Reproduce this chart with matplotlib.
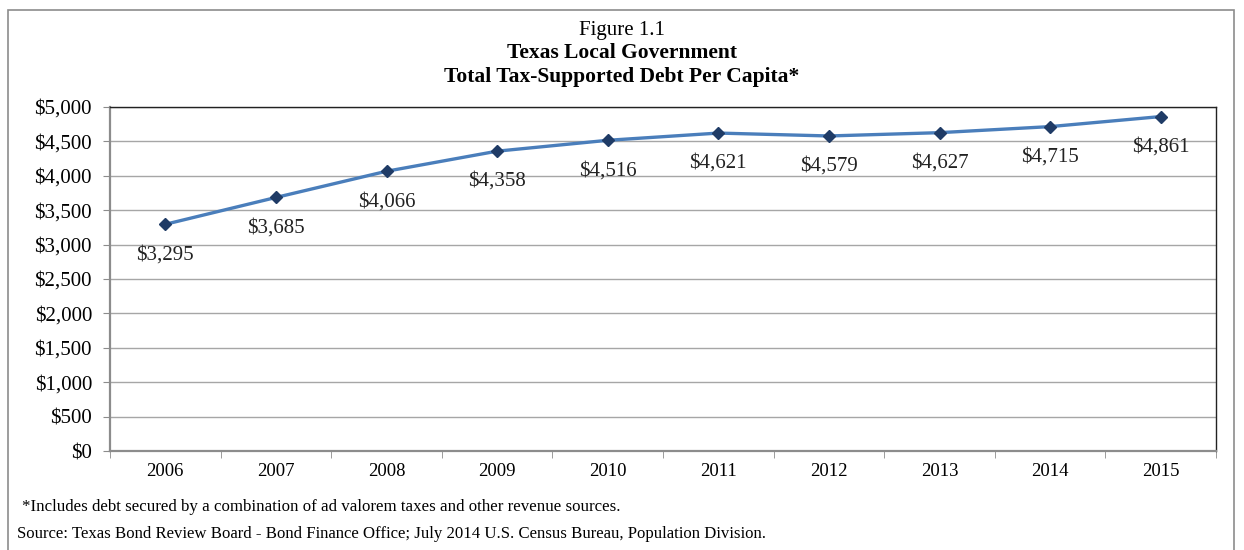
import matplotlib.pyplot as plt
from matplotlib.patches import Rectangle
from matplotlib.ticker import FuncFormatter, MultipleLocator

plt.rcParams['font.family'] = ['Liberation Serif', 'DejaVu Serif']

years = ['2006', '2007', '2008', '2009', '2010', '2011', '2012', '2013', '2014', '2015']
debt_per_capita = [3295, 3685, 4066, 4358, 4516, 4621, 4579, 4627, 4715, 4861]

fig = plt.figure(figsize=(12.44, 5.5), dpi=100)
# outer frame around the whole chart
fig.patches.append(Rectangle((8 / 1244, -0.01), 1226 / 1244, 1.01 - 10 / 550,
                             transform=fig.transFigure, fill=False,
                             edgecolor='#8c8c8c', linewidth=1.2))

ax = fig.add_axes([110 / 1244, 99 / 550, 1106 / 1244, 344 / 550])
x = range(len(years))
ax.plot(x, debt_per_capita, color='#4a7ebb', linewidth=2.4, marker='D',
        markersize=6, markerfacecolor='#1f3b66', markeredgecolor='#1f3b66', zorder=3)

for xi, v in zip(x, debt_per_capita):
    ax.annotate(f'${v:,}', (xi, v), xytext=(0, -15), textcoords='offset points',
                ha='center', va='top', fontsize=15, color='#222222')

ax.set_xlim(-0.5, len(years) - 0.5)
ax.set_ylim(0, 5000)
ax.yaxis.set_major_locator(MultipleLocator(500))
ax.yaxis.set_major_formatter(FuncFormatter(lambda v, p: f'${v:,.0f}'))
ax.set_xticks(list(x))
ax.set_xticklabels(years)
ax.set_xticks([i + 0.5 for i in range(-1, len(years))], minor=True)
ax.tick_params(axis='x', which='major', length=0, pad=9, labelsize=13.5)
ax.tick_params(axis='x', which='minor', length=5, direction='out', color='#8c8c8c')
ax.tick_params(axis='y', length=5, direction='out', color='#8c8c8c', labelsize=15, pad=8)
ax.grid(axis='y', color='#a6a6a6', linewidth=1)
ax.set_axisbelow(True)
for side in ('left', 'bottom'):
    ax.spines[side].set_color('#8c8c8c')
    ax.spines[side].set_linewidth(1.6)
for side in ('top', 'right'):
    ax.spines[side].set_color('#222222')
    ax.spines[side].set_linewidth(1)

fig.text(0.5, 1 - 30 / 550, 'Figure 1.1', ha='center', va='center', fontsize=15)
fig.text(0.5, 1 - 53 / 550, 'Texas Local Government', ha='center', va='center',
         fontsize=15.5, fontweight='bold')
fig.text(0.5, 1 - 77 / 550, 'Total Tax-Supported Debt Per Capita*', ha='center',
         va='center', fontsize=15.5, fontweight='bold')

fig.text(22 / 1244, 1 - 507 / 550,
         '*Includes debt secured by a combination of ad valorem taxes and other revenue sources.',
         ha='left', va='center', fontsize=12.2)
fig.text(17 / 1244, 1 - 534 / 550,
         'Source: Texas Bond Review Board - Bond Finance Office; July 2014 U.S. Census Bureau, Population Division.',
         ha='left', va='center', fontsize=12.1)

fig.savefig('out.png', dpi=100)
